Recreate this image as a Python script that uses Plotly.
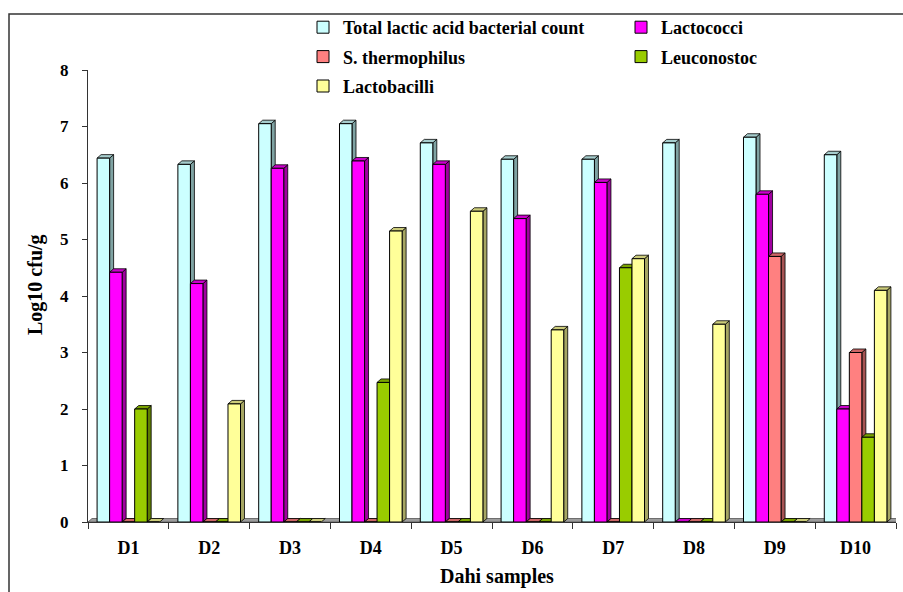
import plotly.graph_objects as go

# Dahi samples and log10 counts (cfu/g) for each bacterial group
samples = ["D1", "D2", "D3", "D4", "D5", "D6", "D7", "D8", "D9", "D10"]
total_lab = [6.44, 6.33, 7.05, 7.05, 6.71, 6.42, 6.42, 6.71, 6.81, 6.50]
lactococci = [4.42, 4.22, 6.26, 6.39, 6.33, 5.37, 6.01, 0.0, 5.80, 2.00]
s_thermophilus = [0.0, 0.0, 0.0, 0.0, 0.0, 0.0, 0.0, 0.0, 4.70, 3.00]
leuconostoc = [2.00, 0.0, 0.0, 2.47, 0.0, 0.0, 4.50, 0.0, 0.0, 1.50]
lactobacilli = [0.0, 2.09, 0.0, 5.15, 5.50, 3.40, 4.66, 3.50, 0.0, 4.10]
y_ticks = [0, 1, 2, 3, 4, 5, 6, 7, 8]

# name, values, front colour, side colour, top colour, legend
series = [
    ("Total lactic acid bacterial count", total_lab, "#CCFFFF", "#7FA3A3", "#A6CDCD", "legend"),
    ("Lactococci", lactococci, "#FF00FF", "#A000A0", "#CC00CC", "legend2"),
    ("S. thermophilus", s_thermophilus, "#FF8080", "#A65353", "#CC6666", "legend"),
    ("Leuconostoc", leuconostoc, "#99CC00", "#5F7F00", "#7AA300", "legend2"),
    ("Lactobacilli", lactobacilli, "#FFFF99", "#A6A663", "#CCCC7A", "legend"),
]

W, H = 903, 592
M_L, M_R, M_T, M_B = 88, 7, 70, 70
plot_w = W - M_L - M_R
plot_h = H - M_T - M_B

n = len(series)
bar_w = 0.155                      # width of one bar in category units
group_w = bar_w * n
depth_dx = 4.0 / (plot_w / len(samples))   # 3-D depth, horizontal (data units)
depth_dy = 3.5 / (plot_h / 8.0)            # 3-D depth, vertical (data units)
xs = list(range(len(samples)))

fig = go.Figure()
shapes = []

# grey floor of the 3-D chart
x_lo, x_hi = -0.5, len(samples) - 0.5
shapes.append(dict(
    type="path", xref="x", yref="y", layer="below",
    path=f"M{x_lo},0 L{x_lo + depth_dx},{depth_dy} L{x_hi + depth_dx},{depth_dy} L{x_hi},0 Z",
    fillcolor="#9C9C9C", line=dict(color="#555555", width=0.8),
))

for i, (name, vals, front, side, top, leg) in enumerate(series):
    off = -group_w / 2 + i * bar_w
    fig.add_trace(go.Bar(
        x=xs, y=vals, name=name, width=bar_w, offset=off,
        marker=dict(color=front, line=dict(color="#000000", width=1)),
        legend=leg, legendgroup=name,
    ))

# depth faces, drawn bar by bar so later bars overlap earlier ones
for j in xs:
    for i, (name, vals, front, side, top, leg) in enumerate(series):
        v = vals[j]
        left = j - group_w / 2 + i * bar_w
        right = left + bar_w
        if v > 0:
            shapes.append(dict(
                type="path", xref="x", yref="y", layer="below",
                path=(f"M{right},0 L{right + depth_dx},{depth_dy} "
                      f"L{right + depth_dx},{v + depth_dy} L{right},{v} Z"),
                fillcolor=side, line=dict(color="#000000", width=0.8),
            ))
        shapes.append(dict(
            type="path", xref="x", yref="y", layer="below",
            path=(f"M{left},{v} L{left + depth_dx},{v + depth_dy} "
                  f"L{right + depth_dx},{v + depth_dy} L{right},{v} Z"),
            fillcolor=top, line=dict(color="#000000", width=0.8),
        ))

# outer frame around the chart (runs past the right and bottom edges)
shapes.append(dict(
    type="rect", xref="paper", yref="paper", layer="above",
    x0=(9 - M_L) / plot_w, x1=(W + 10 - M_L) / plot_w,
    y0=-(M_B + 10) / plot_h, y1=(H - 14 - M_B) / plot_h,
    line=dict(color="#333333", width=1.5), fillcolor="rgba(0,0,0,0)",
))

xtick_font = dict(family="Liberation Serif", size=18, color="#000000", weight="bold")
ytick_font = dict(family="Liberation Serif", size=17, color="#000000", weight="bold")
title_font = dict(family="Liberation Serif", size=20, color="#000000", weight="bold")
legend_font = dict(family="Liberation Serif", size=18, color="#000000", weight="bold")

legend_top = (H - M_B - 9) / plot_h
fig.update_layout(
    width=W, height=H,
    margin=dict(l=M_L, r=M_R, t=M_T, b=M_B),
    paper_bgcolor="#FFFFFF", plot_bgcolor="#FFFFFF",
    barmode="overlay",
    shapes=shapes,
    showlegend=True,
    legend=dict(x=(303 - M_L) / plot_w, y=legend_top, xanchor="left", yanchor="top",
                orientation="v", font=legend_font, bgcolor="rgba(0,0,0,0)",
                tracegroupgap=3, itemclick=False),
    legend2=dict(x=(621 - M_L) / plot_w, y=legend_top, xanchor="left", yanchor="top",
                 orientation="v", font=legend_font, bgcolor="rgba(0,0,0,0)",
                 tracegroupgap=3, itemclick=False),
    xaxis=dict(
        range=[x_lo, x_hi], tickmode="array", tickvals=xs, ticktext=samples,
        ticks="", showline=True, linecolor="#333333", linewidth=1,
        showgrid=False, zeroline=False, tickfont=xtick_font, ticklabelstandoff=9,
        minor=dict(tickmode="linear", tick0=-0.5, dtick=1, ticks="outside",
                   ticklen=6, tickcolor="#333333", showgrid=False),
    ),
    yaxis=dict(
        range=[0, 8], tickmode="array", tickvals=y_ticks,
        ticks="outside", ticklen=5, tickcolor="#333333",
        showline=True, linecolor="#333333", linewidth=1,
        showgrid=False, zeroline=False, tickfont=ytick_font, ticklabelstandoff=10,
    ),
    annotations=[
        dict(text="Log10 cfu/g", xref="paper", yref="paper",
             x=(35 - M_L) / plot_w, y=(H - M_B - 285) / plot_h,
             textangle=-90, showarrow=False, font=title_font,
             xanchor="center", yanchor="middle"),
        dict(text="Dahi samples", xref="paper", yref="paper",
             x=(497 - M_L) / plot_w, y=(H - M_B - 576) / plot_h,
             showarrow=False, font=title_font, xanchor="center", yanchor="middle"),
    ],
)

fig.write_html("out.html")
